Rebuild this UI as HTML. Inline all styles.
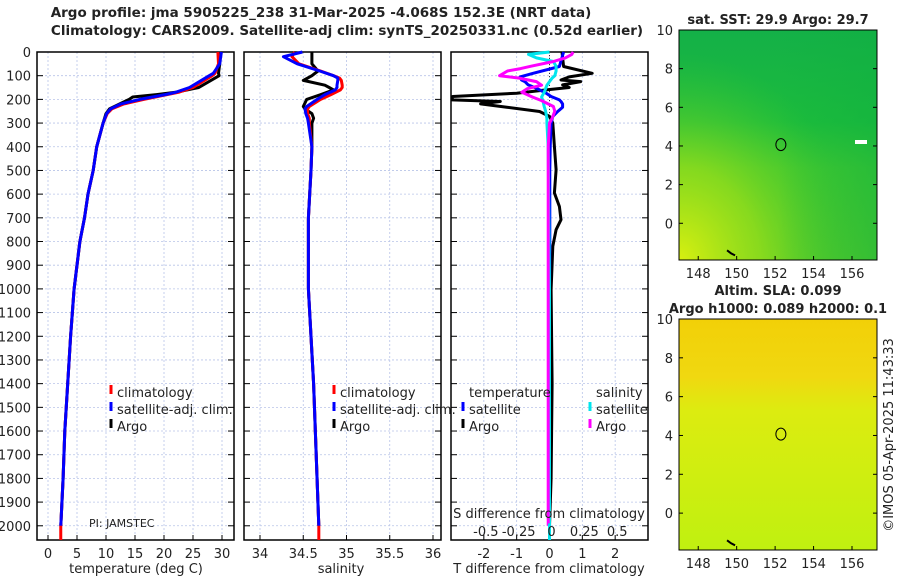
<!DOCTYPE html>
<html><head><meta charset="utf-8"><style>
body{margin:0;background:#fff;}
svg{display:block;font-family:"DejaVu Sans","Liberation Sans",sans-serif;}
</style></head><body>
<svg id="fig" width="900" height="580" viewBox="0 0 900 580">
<defs>
<linearGradient id="sstG" x1="0" y1="0" x2="0" y2="1">
<stop offset="0" stop-color="#14b048"/><stop offset="0.4" stop-color="#1cbc3c"/><stop offset="0.6" stop-color="#40c830"/><stop offset="1" stop-color="#58cc28"/></linearGradient>
<radialGradient id="sstY" cx="0" cy="1" r="0.9">
<stop offset="0" stop-color="#d8f010" stop-opacity="1"/><stop offset="0.45" stop-color="#a0e018" stop-opacity="0.7"/><stop offset="1" stop-color="#40c830" stop-opacity="0"/></radialGradient>
<linearGradient id="sstR" x1="0" y1="0" x2="1" y2="0">
<stop offset="0.5" stop-color="#10b040" stop-opacity="0"/><stop offset="1" stop-color="#10b040" stop-opacity="0.5"/></linearGradient>
<linearGradient id="slaG" x1="0" y1="0" x2="0" y2="1">
<stop offset="0" stop-color="#f2d008"/><stop offset="0.25" stop-color="#f0d810"/><stop offset="0.4" stop-color="#dcec10"/><stop offset="1" stop-color="#c0f010"/></linearGradient>
</defs>
<g id="plots"></g>
</svg>
<script>
const NS="http://www.w3.org/2000/svg";
const svg=document.getElementById('fig');
const root=document.getElementById('plots');
function el(tag,attrs,parent){const e=document.createElementNS(NS,tag);for(const k in attrs)e.setAttribute(k,attrs[k]);(parent||root).appendChild(e);return e;}
function txt(x,y,s,opt,parent){const t=el('text',Object.assign({x:x,y:y,'font-size':13,fill:'#222'},opt||{}),parent);t.textContent=s;return t;}

// ---- data ----
const tempDepth=[0,50,90,100,150,170,180,190,200,220,240,260,300,400,500,600,700,800,900,1000,1200,1400,1600,1800,2000];
const tempArgo=[29.6,29.6,29.4,29.5,26,22,18.7,14.6,14,12.3,10.6,10,9.5,8.4,7.8,6.9,6.3,5.5,5,4.5,3.9,3.4,2.9,2.6,2.2];
const tempClim=[29.3,29.4,28.8,28.3,25,22.5,20.5,18.5,16.5,13,11,10.2,9.5,8.4,7.8,6.9,6.3,5.5,5,4.5,3.9,3.4,2.9,2.6,2.2];
const tempSat=[29.9,29.6,28.5,27.8,24.4,22,20.2,18,15.8,12.5,10.8,10.1,9.5,8.4,7.8,6.9,6.3,5.5,5,4.5,3.9,3.4,2.9,2.6,2.2];

const salDepth=[0,20,50,80,100,110,120,140,150,160,180,200,230,240,260,280,300,400,500,700,1000,1400,2000];
const salArgo=[34.6,34.6,34.6,34.67,34.6,34.55,34.5,34.75,34.8,34.85,34.7,34.54,34.5,34.52,34.6,34.62,34.6,34.6,34.59,34.56,34.56,34.62,34.68];
const salClim=[34.4,34.37,34.45,34.7,34.85,34.92,34.94,34.95,34.95,34.93,34.82,34.7,34.57,34.55,34.55,34.57,34.57,34.6,34.59,34.56,34.56,34.62,34.68];
const salSat=[34.49,34.27,34.43,34.69,34.85,34.9,34.9,34.89,34.89,34.87,34.75,34.66,34.54,34.52,34.53,34.55,34.56,34.6,34.59,34.56,34.56,34.62,34.68];

const tdDepth=[0,61,90,105,118,125,139,150,160,174,188,202,209,219,233,251,272,300,399,497,595,652,708,750,820,1003,1400,1800,2000];
const tdArgo=[0.38,0.43,1.3,0.6,0.35,0.95,0.4,0.6,-0.1,-1,-2.95,-2.97,-1.5,-2.1,-1.3,-0.3,0,0.1,0.15,0.2,0.15,0.3,0.35,0.2,0.1,0.05,0.08,0.05,0];
const tdSat=[0.43,0.3,-0.5,-0.9,-0.85,-0.75,-0.65,-0.45,-0.3,-0.1,0.05,0.3,0.35,0.4,0.4,0.25,0.1,0.05,0.02,0.01,0.01,0.01,0.01,0.01,0.01,0.0,0,0,0];
const sdDepth=[0,10,25,40,60,70,80,100,110,125,140,155,170,190,205,230,250,280,300,400,1000,2000];
const sdArgo=[0.18,0.17,0.12,0.03,-0.14,-0.22,-0.32,-0.38,-0.23,-0.1,-0.06,-0.17,-0.21,-0.13,-0.06,0.03,0.04,0.02,0.0,-0.01,-0.01,-0.01];
const sdSat=[0.0,-0.16,-0.1,0.03,0.05,0.05,0.05,0.04,0.02,0.0,-0.02,-0.03,-0.04,-0.06,-0.05,-0.04,-0.03,-0.02,-0.02,-0.01,0,0];

const depthTicks=[0,100,200,300,400,500,600,700,800,900,1000,1100,1200,1300,1400,1500,1600,1700,1800,1900,2000];
const tempTicks=[0,5,10,15,20,25,30];
const salTicks=[34,34.5,35,35.5,36];
const tdTicks=[-2,-1,0,1,2];
const sdTicks=[-0.5,-0.25,0,0.25,0.5];
const lonTicks=[148,150,152,154,156];
const latTicks=[0,2,4,6,8,10];

// ---- axes ----
const Y0=52,Y1=540,DMAX=2060;
const yD=d=>Y0+d*(Y1-Y0)/DMAX;
function mk(x0,x1,v0,v1){return v=>x0+(v-v0)*(x1-x0)/(v1-v0);}
const P1={x0:37,x1:234}, P2={x0:244,x1:441}, P3={x0:451,x1:648};
const xT=mk(48,222,0,30), xS=mk(260,433,34,36), xTD=mk(P3.x0,P3.x1,-3,3), xSD=mk(P3.x0,P3.x1,-0.75,0.75);

function grid(P,ticks,xf,name,fmt){
  const g=el('g',{});
  
  
  ticks.forEach(t=>{const x=xf(t);el('line',{x1:x,x2:x,y1:Y0,y2:Y1,stroke:'#b8c4e8','stroke-width':0.8,'stroke-dasharray':'2,2'},g);});
  depthTicks.forEach(d=>{const y=yD(d);el('line',{x1:P.x0,x2:P.x1,y1:y,y2:y,stroke:'#b8c4e8','stroke-width':0.8,'stroke-dasharray':'2,2'},g);
    el('line',{x1:P.x0,x2:P.x0+6,y1:y,y2:y,stroke:'#000'},g);el('line',{x1:P.x1-6,x2:P.x1,y1:y,y2:y,stroke:'#000'},g);});
  if(fmt) ticks.forEach(t=>{const x=xf(t);el('line',{x1:x,x2:x,y1:Y1,y2:Y1-5,stroke:'#000'},g);txt(x,558,fmt(t),{'text-anchor':'middle'},g);});
  el('rect',{x:P.x0,y:Y0,width:P.x1-P.x0,height:Y1-Y0,fill:'none',stroke:'#000','stroke-width':1.5},g);
}
grid(P1,tempTicks,xT,'temperature',t=>String(t));
grid(P2,salTicks,xS,'salinity',t=>String(t));
grid(P3,tdTicks,xTD,'difference',t=>String(t));
const dl=el('g',{});


depthTicks.forEach(d=>txt(31,yD(d)+5,String(d),{'text-anchor':'end'},dl));
el('line',{x1:xTD(0),x2:xTD(0),y1:Y0,y2:Y1,stroke:'#333','stroke-width':1,'stroke-dasharray':'1,2'});

function series(xs,ds,xf,color,name,w){
  const pts=xs.map((v,i)=>xf(v).toFixed(1)+','+yD(ds[i]).toFixed(1)).join(' ');
  const p=el('polyline',{points:pts,fill:'none',stroke:color,'stroke-width':w||3,'stroke-linejoin':'round'});
  
  
}
series(tempArgo,tempDepth,xT,'#000','temp-argo-line');
series(tempClim,tempDepth,xT,'#f00','temp-climatology-line');
series(tempSat,tempDepth,xT,'#00f','temp-satellite-line');
series(salArgo,salDepth,xS,'#000','salinity-argo-line');
series(salClim,salDepth,xS,'#f00','salinity-climatology-line');
series(salSat,salDepth,xS,'#00f','salinity-satellite-line');
series(tdArgo,tdDepth,xTD,'#000','tdiff-argo-line');
series(tdSat,tdDepth,xTD,'#00f','tdiff-satellite-line');
series(sdSat,sdDepth,xSD,'#00e5ee','sdiff-satellite-line');
series(sdArgo,sdDepth,xSD,'#f0f','sdiff-argo-line');
el('line',{x1:xT(2.2),x2:xT(2.2),y1:yD(2000),y2:Y1,stroke:'#f00','stroke-width':3});
el('line',{x1:xS(34.68),x2:xS(34.68),y1:yD(2000),y2:Y1,stroke:'#f00','stroke-width':3});
el('line',{x1:xTD(0),x2:xTD(0),y1:yD(1990),y2:Y1,stroke:'#00e5ee','stroke-width':3});

const sg=el('g',{});


txt(549,518,'S difference from climatology',{'text-anchor':'middle'},sg);
sdTicks.forEach(t=>txt(xSD(t)+2,536,String(t),{'text-anchor':'middle'},sg));

function title(x,y,s,name,opt){const t=txt(x,y,s,opt);}
title(136,573,'temperature (deg C)','x-axis-title-temperature',{'text-anchor':'middle'});
title(341,573,'salinity','x-axis-title-salinity',{'text-anchor':'middle'});
title(549,573,'T difference from climatology','x-axis-title-tdiff',{'text-anchor':'middle'});
title(321,17,'Argo profile: jma 5905225_238 31-Mar-2025 -4.068S 152.3E (NRT data)','title-line-1',{'text-anchor':'middle','font-weight':'bold','font-size':13.5});
title(347,35,'Climatology: CARS2009. Satellite-adj clim: synTS_20250331.nc (0.52d earlier)','title-line-2',{'text-anchor':'middle','font-weight':'bold','font-size':13.5});
title(89,527,'PI: JAMSTEC','pi-label',{'font-size':11});

function legend(x,y,items,name){
  const g=el('g',{});
  
  
  items.forEach((it,i)=>{const yy=y+i*17;
    if(it[1]) el('line',{x1:x,x2:x,y1:yy-12,y2:yy-3,stroke:it[1],'stroke-width':3},g);
    txt(x+6,yy,it[0],{},g);});
}
legend(111,397,[['climatology','#f00'],['satellite-adj. clim.','#00f'],['Argo','#000']],'legend-temperature');
legend(334,397,[['climatology','#f00'],['satellite-adj. clim.','#00f'],['Argo','#000']],'legend-salinity');
legend(463,397,[['temperature',null],['satellite','#00f'],['Argo','#000']],'legend-tdiff');
legend(590,397,[['salinity',null],['satellite','#00e5ee'],['Argo','#f0f']],'legend-sdiff');

function map(y0,y1,fills,name,ttl){
  const g=el('g',{});
  
  
  const X0=679,X1=877;
  const lon=mk(X0,X1,147,157.3);
  const lat=v=>y0+(10-v)*(y1-y0)/11.9;
  fills.forEach(f=>el('rect',{x:X0,y:y0,width:X1-X0,height:y1-y0,fill:f},g));
  el('ellipse',{cx:lon(152.3),cy:lat(4.07),rx:5,ry:6,fill:'none',stroke:'#000','stroke-width':1},g);
  el('path',{d:`M${lon(149.5)},${lat(-1.4)} l4,3 l4,2`,stroke:'#000','stroke-width':2,fill:'none'},g);
  el('rect',{x:X0,y:y0,width:X1-X0,height:y1-y0,fill:'none',stroke:'#000','stroke-width':1},g);
  lonTicks.forEach(t=>{const x=lon(t);el('line',{x1:x,x2:x,y1:y1,y2:y1-4,stroke:'#000'},g);txt(x,y1+18,String(t),{'text-anchor':'middle'},g);});
  latTicks.forEach(t=>{const y=lat(t);el('line',{x1:X0,x2:X0+4,y1:y,y2:y,stroke:'#000'},g);el('line',{x1:X1-4,x2:X1,y1:y,y2:y,stroke:'#000'},g);txt(X0-6,y+5,String(t),{'text-anchor':'end'},g);});
  ttl.forEach((s,i)=>txt(778,y0-(ttl.length-1-i)*18-6,s,{'text-anchor':'middle','font-weight':'bold'},g));
  return {lon,lat,g};
}
const m1=map(30,260,['url(#sstG)','url(#sstY)','url(#sstR)'],'sst-map',['sat. SST: 29.9 Argo: 29.7']);
el('rect',{x:855,y:140,width:12,height:4,fill:'#fff'},m1.g);
map(319,550,['url(#slaG)'],'sla-map',['Altim. SLA: 0.099','Argo h1000: 0.089 h2000: 0.1']);
const c=txt(893,435,'©IMOS 05-Apr-2025 11:43:33',{'text-anchor':'middle',transform:'rotate(-90 893 435)'});


</script>
</body></html>
